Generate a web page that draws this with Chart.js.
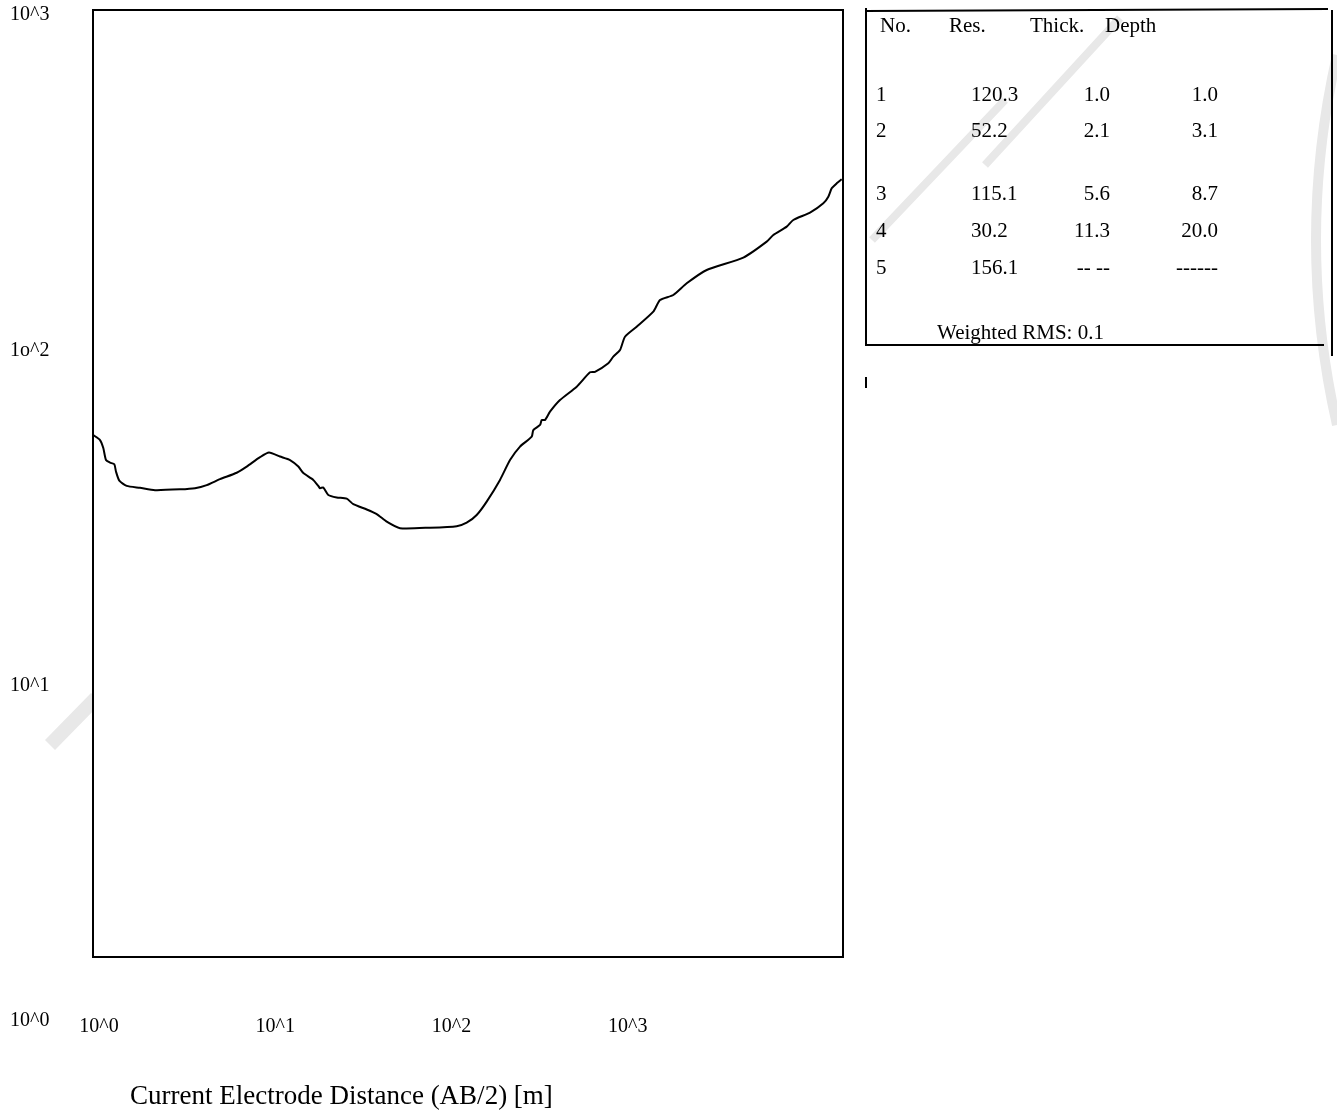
<!DOCTYPE html>
<html>
<head>
<meta charset="utf-8">
<script src="https://cdn.jsdelivr.net/npm/chart.js@4"></script>
<style>
  html, body { margin: 0; padding: 0; background: #ffffff; }
  #wrap { position: relative; width: 1337px; height: 1116px; }
</style>
</head>
<body>
<div id="wrap"><canvas id="c" width="1337" height="1116"></canvas></div>
<script>
// ---- Data: sounding curve (AB/2 in m, apparent resistivity) ----
const abHalf = [1.004, 1.096, 1.144, 1.185, 1.249, 1.321, 1.351, 1.41, 1.553, 1.848, 2.248, 3.116, 3.79, 4.417, 5.254, 6.537, 7.448, 8.863, 9.97, 11.51, 13.12, 14.62, 15.61, 17.78, 18.98, 19.41, 20.26, 21.63, 24.14, 27.51, 29.99, 35.73, 40.71, 46.39, 55.19, 81.7, 115.8, 131.9, 150.3, 171.3, 203.8, 232.3, 264.7, 308.4, 314.9, 343.8, 351.5, 366.9, 391.6, 446.2, 555.1, 660.6, 705.1, 838.9, 895.4, 977.5, 1043, 1215, 1510, 1648, 1961, 2336, 3034, 4894, 6643, 7244, 8629, 9404, 11700, 13920, 14860, 15530, 16580, 17700];
const appRes = [54.0, 52.2, 49.4, 45.5, 44.7, 44.2, 42.0, 39.5, 38.1, 37.6, 37.0, 37.2, 37.5, 38.3, 39.9, 41.7, 43.5, 46.4, 47.9, 46.6, 45.5, 43.5, 41.6, 39.7, 38.1, 37.5, 37.7, 35.8, 35.2, 34.9, 33.6, 32.4, 31.4, 29.8, 28.5, 28.6, 28.9, 29.6, 31.2, 34.2, 39.7, 45.5, 49.9, 53.4, 55.9, 57.9, 59.9, 59.9, 63.4, 68.7, 75.3, 83.1, 83.4, 88.4, 92.5, 96.8, 106.1, 113.6, 126.0, 136.5, 141.3, 153.1, 167.8, 182.6, 203.8, 213.4, 225.9, 236.5, 248.7, 265.2, 277.5, 293.9, 304.2, 312.7];

// ---- Tick labels ----
const yTickValues = [1000, 100, 10, 1];
const yTickLabels = ['10^3', '1o^2', '10^1', '10^0'];
const xTickValues = [1, 10, 100, 1000];
const xTickLabels = ['10^0', '10^1', '10^2', '10^3'];
const xAxisTitle = 'Current Electrode Distance (AB/2) [m]';

// ---- Layer model table ----
const tableHeader = ['No.', 'Res.', 'Thick.', 'Depth'];
const layerNo = ['1', '2', '3', '4', '5'];
const layerRes = ['120.3', '52.2', '115.1', '30.2', '156.1'];
const layerThick = ['1.0', '2.1', '5.6', '11.3', '-- --'];
const layerDepth = ['1.0', '3.1', '8.7', '20.0', '------'];
const rmsText = 'Weighted RMS: 0.1';

const FONT = '"Liberation Serif", "Times New Roman", serif';

const watermark = {
  id: 'watermark',
  beforeDraw(chart) {
    const ctx = chart.ctx;
    ctx.save();
    ctx.strokeStyle = '#e8e8e8';
    ctx.lineCap = 'butt';
    ctx.lineWidth = 14;
    ctx.beginPath();
    ctx.moveTo(50, 745); ctx.lineTo(96, 698);
    ctx.stroke();
    ctx.lineWidth = 8;
    ctx.beginPath();
    ctx.moveTo(872, 240); ctx.lineTo(1005, 100);
    ctx.moveTo(985, 165); ctx.lineTo(1120, 18);
    ctx.stroke();
    ctx.lineWidth = 10;
    ctx.beginPath();
    ctx.moveTo(1337, 55);
    ctx.quadraticCurveTo(1295, 240, 1337, 425);
    ctx.stroke();
    ctx.restore();
  }
};

const decor = {
  id: 'decor',
  beforeDatasetsDraw(chart) {
    const ctx = chart.ctx;
    const a = chart.chartArea;
    ctx.save();
    ctx.fillStyle = '#fff';
    ctx.fillRect(a.left, a.top, a.right - a.left, a.bottom - a.top);
    ctx.restore();
  },
  afterDraw(chart) {
    const ctx = chart.ctx;
    const a = chart.chartArea;
    const xs = chart.scales.x, ys = chart.scales.y;
    ctx.save();
    // plot frame
    ctx.strokeStyle = '#000';
    ctx.lineWidth = 2;
    ctx.strokeRect(a.left, a.top, a.right - a.left, a.bottom - a.top);

    ctx.fillStyle = '#000';
    ctx.font = '20px ' + FONT;
    // y tick labels (left column)
    ctx.textAlign = 'left';
    ctx.textBaseline = 'middle';
    yTickValues.forEach((v, i) => {
      ctx.fillText(yTickLabels[i], 10, ys.getPixelForValue(v) + 5);
    });
    // x tick labels (row below the frame)
    ctx.textAlign = 'center';
    xTickValues.forEach((v, i) => {
      ctx.fillText(xTickLabels[i], xs.getPixelForValue(v) + 6, 1027);
    });
    // axis title
    ctx.font = '27px ' + FONT;
    ctx.textAlign = 'left';
    ctx.fillText(xAxisTitle, 130, 1097);

    // table box
    ctx.lineWidth = 2;
    ctx.beginPath();
    ctx.moveTo(865, 11); ctx.lineTo(1328, 9);
    ctx.moveTo(866, 8); ctx.lineTo(866, 346);
    ctx.moveTo(865, 345); ctx.lineTo(1324, 345);
    ctx.moveTo(1332, 10); ctx.lineTo(1332, 356);
    ctx.moveTo(866, 377); ctx.lineTo(866, 388);
    ctx.stroke();

    ctx.font = '21px ' + FONT;
    ctx.textBaseline = 'middle';
    const hx = [880, 949, 1030, 1105];
    ctx.textAlign = 'left';
    tableHeader.forEach((h, i) => ctx.fillText(h, hx[i], 26));
    const rowY = [95, 131, 194, 231, 268];
    layerNo.forEach((n, i) => {
      ctx.textAlign = 'left';
      ctx.fillText(n, 876, rowY[i]);
      ctx.fillText(layerRes[i], 971, rowY[i]);
      ctx.textAlign = 'right';
      ctx.fillText(layerThick[i], 1110, rowY[i]);
      ctx.fillText(layerDepth[i], 1218, rowY[i]);
    });
    ctx.textAlign = 'left';
    ctx.fillText(rmsText, 937, 333);
    ctx.restore();
  }
};

new Chart(document.getElementById('c'), {
  type: 'line',
  data: {
    datasets: [{
      data: abHalf.map((x, i) => ({ x: x, y: appRes[i] })),
      borderColor: '#000',
      borderWidth: 2,
      pointRadius: 0,
      tension: 0.2,
      fill: false
    }]
  },
  options: {
    responsive: false,
    animation: false,
    layout: { padding: { left: 93, top: 10, right: 494, bottom: 159 } },
    plugins: { legend: { display: false }, tooltip: { enabled: false }, title: { display: false } },
    scales: {
      x: { type: 'logarithmic', min: 1, max: 18000, display: false },
      y: { type: 'logarithmic', min: 1.5, max: 1000, display: false }
    }
  },
  plugins: [watermark, decor]
});
</script>
</body>
</html>
